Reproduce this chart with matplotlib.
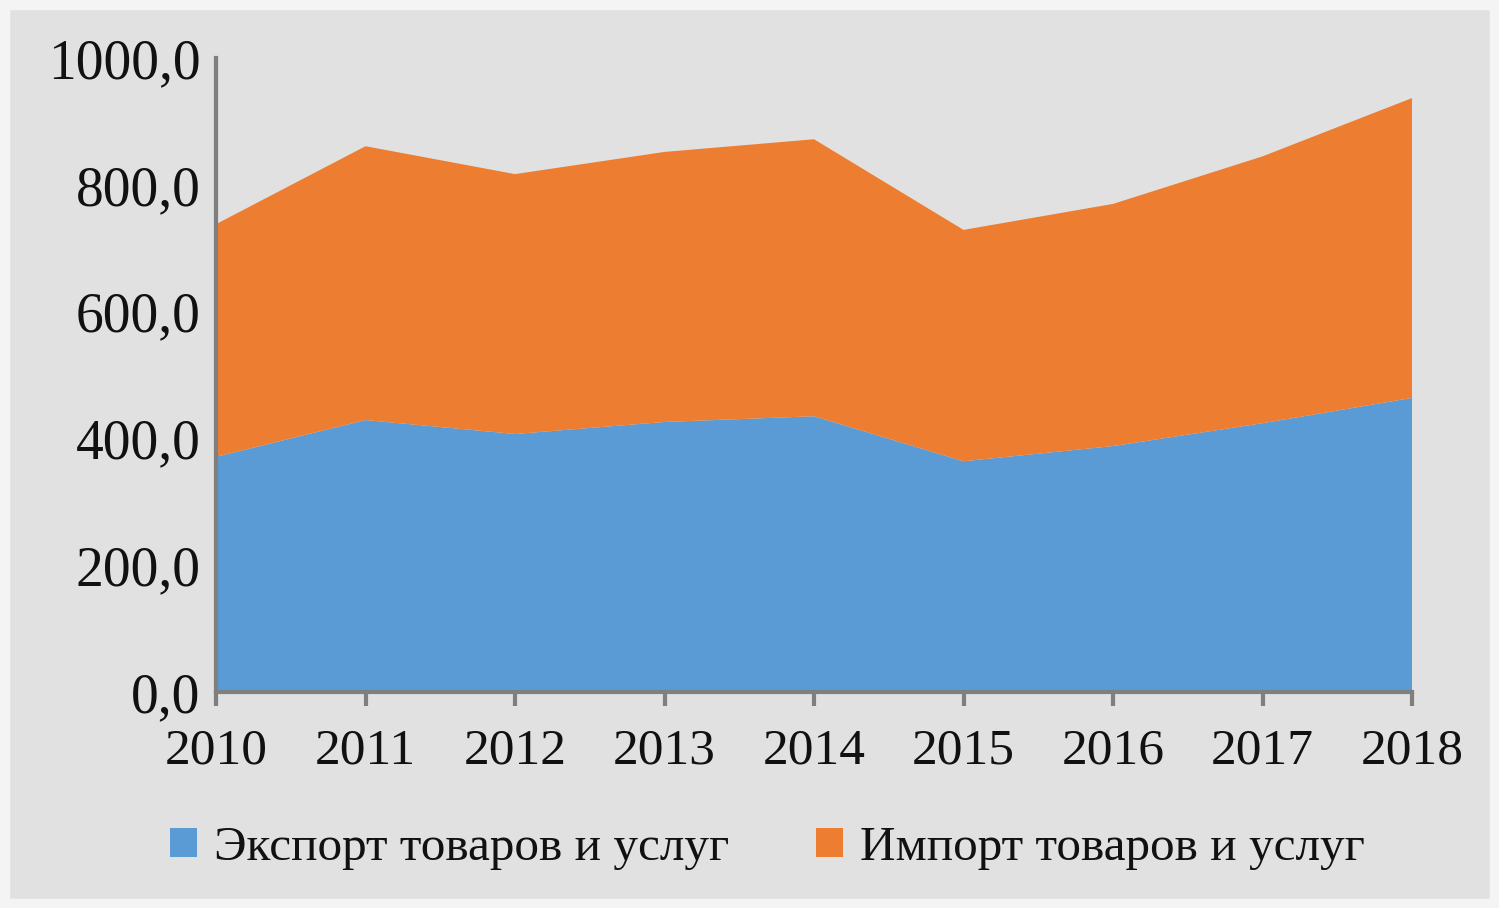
import matplotlib
matplotlib.use("Agg")
import matplotlib.pyplot as plt
from matplotlib.ticker import FuncFormatter
from matplotlib.patches import Rectangle

years = [2010, 2011, 2012, 2013, 2014, 2015, 2016, 2017, 2018]
export_vals = [371, 429, 407, 426, 435, 364, 388, 424, 464]
import_vals = [367, 432, 410, 426, 437, 365, 382, 421, 473]
series_names = ["Экспорт товаров и услуг", "Импорт товаров и услуг"]
colors = ["#5b9bd5", "#ed7d31"]
y_ticks = [0, 200, 400, 600, 800, 1000]

plt.rcParams['font.family'] = ['Liberation Serif', 'DejaVu Serif']

fig = plt.figure(figsize=(14.99, 9.08), dpi=100)
fig.patch.set_facecolor("#e1e1e1")
fig.patches.append(Rectangle((0, 0), 1, 1, transform=fig.transFigure,
                             fill=False, edgecolor="#f4f4f4", linewidth=14, zorder=10))

ax = fig.add_axes([0.1441, 0.2379, 0.942 - 0.1441, 0.936 - 0.2379])
ax.set_facecolor("none")

ax.stackplot(years, export_vals, import_vals, colors=colors, labels=series_names,
             edgecolor="none")

ax.set_xlim(years[0], years[-1])
ax.set_ylim(0, 1000)
ax.set_yticks(y_ticks)
ax.set_xticks(years)
ax.yaxis.set_major_formatter(FuncFormatter(lambda v, p: f"{v:.1f}".replace(".", ",")))

for s in ["top", "right"]:
    ax.spines[s].set_visible(False)
for s in ["left", "bottom"]:
    ax.spines[s].set_color("#7f7f7f")
    ax.spines[s].set_linewidth(3)

ax.tick_params(axis="y", length=0, pad=11, labelsize=40, labelcolor="#111111")
ax.tick_params(axis="x", length=10, width=3, color="#7f7f7f", direction="out",
               pad=16, labelsize=37, labelcolor="#111111")

leg = fig.legend(loc="center", bbox_to_anchor=(0.512, 0.066), ncol=2, frameon=False,
                 fontsize=35.5, handlelength=0.55, handleheight=0.55, handletextpad=0.35,
                 columnspacing=1.75)
for t in leg.get_texts():
    t.set_color("#111111")

fig.savefig("out.png", dpi=100, facecolor=fig.get_facecolor())
